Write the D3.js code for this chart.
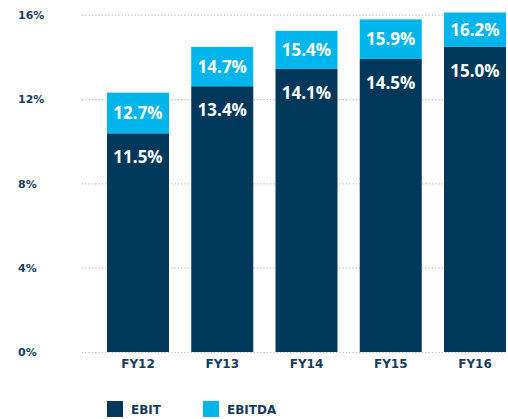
<!DOCTYPE html>
<html>
<head>
<meta charset="utf-8">
<script src="https://cdn.jsdelivr.net/npm/d3@7"></script>
<style>
  body { margin: 0; background: #fff; }
  svg text { font-family: "DejaVu Sans", sans-serif; font-weight: 700; }
  svg text.val { font-family: "Open Sans", "Liberation Sans", sans-serif; }
</style>
</head>
<body>
<svg id="chart" width="508" height="419"></svg>
<script>
// data
var years = ["FY12", "FY13", "FY14", "FY15", "FY16"];
var ebit = [11.5, 13.4, 14.1, 14.5, 15.0];
var ebitda = [12.7, 14.7, 15.4, 15.9, 16.2];
var yTicks = [0, 4, 8, 12, 16];
var legendNames = ["EBIT", "EBITDA"];

var navy = "#00385c";
var cyan = "#00b5ec";
var textNavy = "#173d5e";

var svg = d3.select("#chart");

var rows = years.map(function(d, i) {
    return { year: d, ebit: ebit[i], ebitda: ebitda[i] };
});

var xScale = d3.scaleBand()
    .domain(years)
    .range([95.9, 517.1])
    .paddingInner(0.264)
    .paddingOuter(0.132);

// axis / gridline scale
var yScale = d3.scaleLinear()
    .domain([0, 16])
    .range([352, 14.7]);

// the artwork's bars are not drawn to the axis, so they get their own scales
var yEbit = d3.scaleLinear()
    .domain([0, 16])
    .range([418.3, 21.8]);

var yEbitda = d3.scaleLinear()
    .domain([0, 16])
    .range([383.3, 17.1]);

var base = yScale(0);

// gridlines + y labels
var yAxis = d3.axisLeft(yScale)
    .tickValues(yTicks)
    .tickSize(-423)
    .tickFormat(function(d) { return d + "%"; });

var gy = svg.append("g")
    .attr("transform", "translate(82,0)")
    .call(yAxis);

gy.select(".domain").remove();
gy.selectAll("line")
    .attr("stroke", "#aebccb")
    .attr("stroke-width", 1.2)
    .attr("stroke-dasharray", "1.2,2.1");
gy.selectAll("text")
    .attr("x", -64)
    .attr("dy", "0.35em")
    .style("text-anchor", "start")
    .style("font-size", "11px")
    .attr("fill", textNavy);

// bars
var bars = svg.append("g").selectAll("g")
    .data(rows)
    .enter().append("g");

bars.append("rect")
    .attr("x", function(d) { return xScale(d.year); })
    .attr("width", xScale.bandwidth())
    .attr("y", function(d) { return yEbit(d.ebit); })
    .attr("height", function(d) { return base - yEbit(d.ebit); })
    .attr("fill", navy);

bars.append("rect")
    .attr("x", function(d) { return xScale(d.year); })
    .attr("width", xScale.bandwidth())
    .attr("y", function(d) { return yEbitda(d.ebitda); })
    .attr("height", function(d) { return yEbit(d.ebit) - yEbitda(d.ebitda); })
    .attr("fill", cyan);

bars.append("text")
    .attr("class", "val")
    .attr("x", function(d) { return xScale(d.year) + xScale.bandwidth() / 2; })
    .attr("y", function(d) { return (yEbitda(d.ebitda) + yEbit(d.ebit)) / 2 + 6; })
    .attr("text-anchor", "middle")
    .style("font-size", "17px")
    .attr("fill", "#fff")
    .text(function(d) { return d.ebitda.toFixed(1) + "%"; });

bars.append("text")
    .attr("class", "val")
    .attr("x", function(d) { return xScale(d.year) + xScale.bandwidth() / 2; })
    .attr("y", function(d) { return yEbit(d.ebit) + 30; })
    .attr("text-anchor", "middle")
    .style("font-size", "17px")
    .attr("fill", "#fff")
    .text(function(d) { return d.ebit.toFixed(1) + "%"; });

// x labels
var xAxis = d3.axisBottom(xScale)
    .tickSize(0)
    .tickPadding(7);

var gx = svg.append("g")
    .attr("transform", "translate(0," + base + ")")
    .call(xAxis);

gx.select(".domain").remove();
gx.selectAll("text")
    .style("font-size", "12px")
    .attr("fill", textNavy);

// legend
var legend = svg.append("g").selectAll("g")
    .data(legendNames)
    .enter().append("g")
    .attr("transform", function(d, i) { return "translate(" + (107 + i * 96) + ",401)"; });

legend.append("rect")
    .attr("width", 16)
    .attr("height", 16)
    .attr("fill", function(d, i) { return i == 0 ? navy : cyan; });

legend.append("text")
    .attr("x", 24)
    .attr("y", 12.5)
    .style("font-size", "12px")
    .attr("fill", textNavy)
    .text(function(d) { return d; });
</script>
</body>
</html>
